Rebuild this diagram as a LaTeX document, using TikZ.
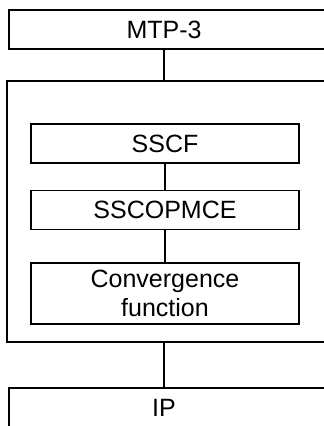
\documentclass[tikz,border=0pt]{standalone}
\usepackage{fontspec}
\setmainfont{Liberation Sans}
\usetikzlibrary{positioning}
\tikzstyle{layer} = [rectangle, draw=black, line width=1.6pt, minimum height=39pt, inner sep=0pt]
\tikzstyle{sublayer} = [rectangle, draw=black, line width=1.6pt, minimum width=268pt, minimum height=39pt, inner sep=0pt, text centered]
\tikzstyle{link} = [line width=1.6pt]
\begin{document}
\begin{tikzpicture}[x=1pt, y=-1pt, font=\fontsize{25}{29}\selectfont]
\useasboundingbox (0,0) rectangle (324,426);
\clip (0,0) rectangle (324,426);
\node (mtp) [layer, minimum width=331pt] at (174.5,29.5) {};
\node (mtptext) at (164,29.5) {MTP-3};
\node (outer) [layer, minimum width=333pt, minimum height=261pt] at (173.5,211.5) {};
\node (sscf) [sublayer] at (165,143.5) {SSCF};
\node (sscop) [sublayer, below=26pt of sscf] {SSCOPMCE};
\node (conv) [sublayer, minimum height=61pt, below=32pt of sscop, align=center] {Convergence\\function};
\node (ip) [layer, minimum width=331pt, minimum height=52pt] at (174.5,414) {};
\node (iptext) at (164,407.5) {IP};

\draw [link] (mtp.south -| mtptext) -- (outer.north -| mtptext);
\draw [link] (sscf) -- (sscop);
\draw [link] (sscop) -- (conv);
\draw [link] (outer.south -| iptext) -- (ip.north -| iptext);
\end{tikzpicture}
\end{document}
